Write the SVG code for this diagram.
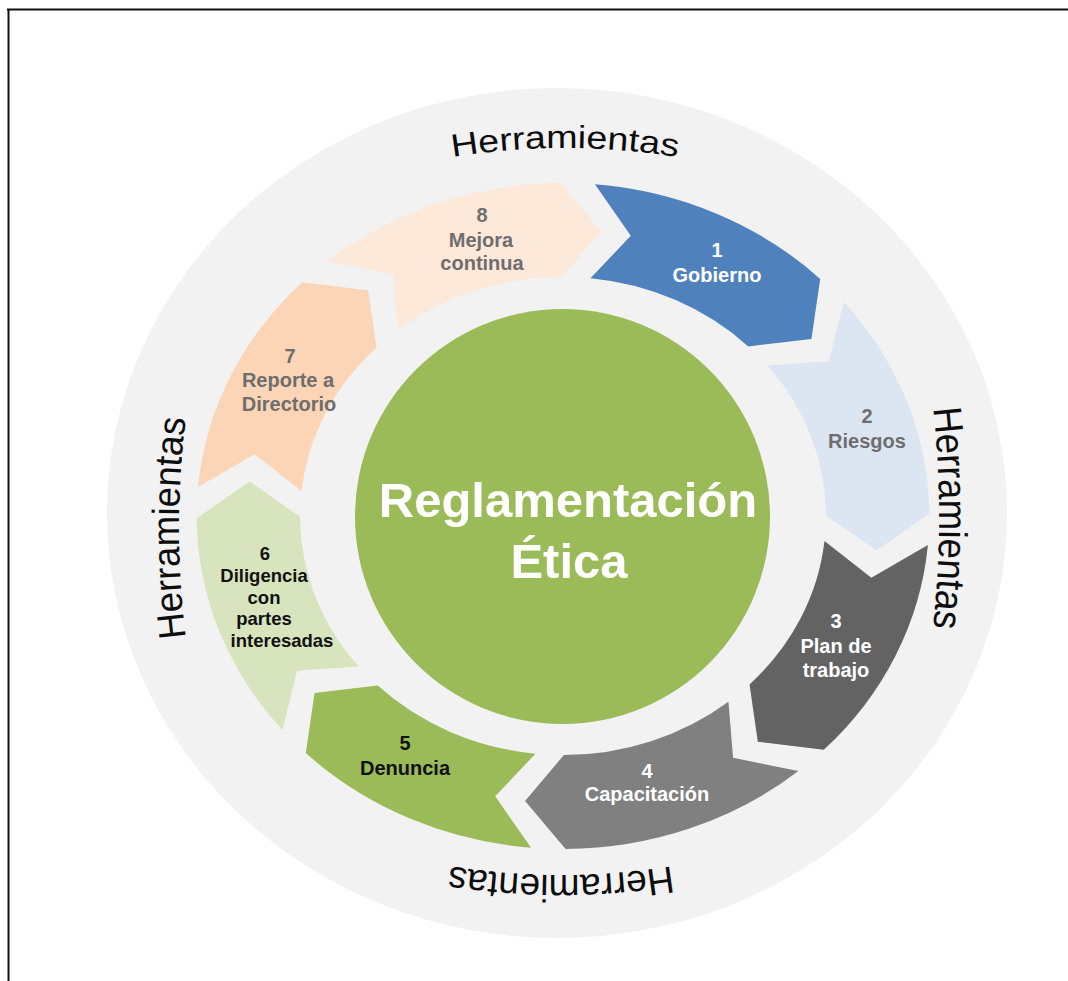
<svg xmlns="http://www.w3.org/2000/svg" xmlns:xlink="http://www.w3.org/1999/xlink" width="1068" height="981" viewBox="0 0 1068 981">
  <style>
    .lbl { font-family: "Liberation Sans", Arial, sans-serif; font-weight: bold; font-size: 20px; text-anchor: middle; }
    .lbl-sm { font-size: 18.5px; }
    .white { fill: #ffffff; }
    .grey { fill: #6e6e6e; }
    .dark { fill: #111111; }
    .tool { font-family: "Liberation Sans", Arial, sans-serif; fill: #0d0d0d; text-anchor: middle; }
    .core { font-family: "Liberation Sans", Arial, sans-serif; font-weight: bold; font-size: 49px; fill: #ffffff; text-anchor: middle; }
  </style>
  <defs>
    <!-- one chevron arc segment of the cycle, drawn in ring space around (0,0) -->
    <path id="seg" d="M29.02,-331.73 A333,333 0 0 1 233.82,-237.11 L225.85,-177.09 L168.41,-169.59 A239,239 0 0 0 24.98,-237.69 L61.63,-280.31 Z"/>
    <!-- baselines for the curved "Herramientas" labels -->
    <path id="arcTop" d="M215,241.8 A700,700 0 0 1 915,241.8"/>
    <path id="arcRight" d="M878.8,176 A1000,1000 0 0 1 878.8,860"/>
    <path id="arcBottom" d="M911,781.2 A700,700 0 0 1 211,781.2"/>
    <path id="arcLeft" d="M233.3,835.8 A900,900 0 0 1 233.3,220.2"/>
  </defs>

  <!-- frame -->
  <line x1="7" y1="9.5" x2="1068" y2="9.5" stroke="#111" stroke-width="2"/>
  <line x1="8.5" y1="9" x2="8.5" y2="981" stroke="#111" stroke-width="2"/>

  <!-- background disc -->
  <ellipse id="background" cx="557" cy="513" rx="450" ry="425" fill="#f2f2f2"/>

  <!-- "Herramientas" around the ring -->
  <g id="tools">
    <text class="tool" font-size="32"><textPath xlink:href="#arcTop" href="#arcTop" startOffset="50%" textLength="226" lengthAdjust="spacingAndGlyphs">Herramientas</textPath></text>
    <text class="tool" font-size="40"><textPath xlink:href="#arcRight" href="#arcRight" startOffset="50%" textLength="220" lengthAdjust="spacingAndGlyphs">Herramientas</textPath></text>
    <text class="tool" font-size="38"><textPath xlink:href="#arcBottom" href="#arcBottom" startOffset="50%" textLength="223" lengthAdjust="spacingAndGlyphs">Herramientas</textPath></text>
    <text class="tool" font-size="38"><textPath xlink:href="#arcLeft" href="#arcLeft" startOffset="50%" textLength="220" lengthAdjust="spacingAndGlyphs">Herramientas</textPath></text>
  </g>

  <!-- cycle steps -->
  <g id="step1">
    <use href="#seg" xlink:href="#seg" transform="translate(563,516) scale(1.1,1) rotate(0)" fill="#4f81bd"/>
    <text class="lbl white" x="717" y="257">1</text>
    <text class="lbl white" x="717" y="282">Gobierno</text>
  </g>
  <g id="step2">
    <use href="#seg" xlink:href="#seg" transform="translate(563,516) scale(1.1,1) rotate(45)" fill="#dce6f2"/>
    <text class="lbl grey" x="867" y="423">2</text>
    <text class="lbl grey" x="867" y="448">Riesgos</text>
  </g>
  <g id="step3">
    <use href="#seg" xlink:href="#seg" transform="translate(563,516) scale(1.1,1) rotate(90)" fill="#636363"/>
    <text class="lbl white" x="836" y="628">3</text>
    <text class="lbl white" x="836" y="652.5">Plan de</text>
    <text class="lbl white" x="836" y="677">trabajo</text>
  </g>
  <g id="step4">
    <use href="#seg" xlink:href="#seg" transform="translate(563,516) scale(1.1,1) rotate(135)" fill="#808080"/>
    <text class="lbl white" x="647" y="778">4</text>
    <text class="lbl white" x="647" y="801">Capacitación</text>
  </g>
  <g id="step5">
    <use href="#seg" xlink:href="#seg" transform="translate(563,516) scale(1.1,1) rotate(180)" fill="#9bbb59"/>
    <text class="lbl dark" x="405" y="750">5</text>
    <text class="lbl dark" x="405" y="775">Denuncia</text>
  </g>
  <g id="step6">
    <use href="#seg" xlink:href="#seg" transform="translate(563,516) scale(1.1,1) rotate(225)" fill="#d7e4bd"/>
    <text class="lbl lbl-sm dark" x="265" y="560">6</text>
    <text class="lbl lbl-sm dark" x="264" y="582">Diligencia</text>
    <text class="lbl lbl-sm dark" x="264" y="603.5">con</text>
    <text class="lbl lbl-sm dark" x="264" y="625">partes</text>
    <text class="lbl lbl-sm dark" x="282" y="647">interesadas</text>
  </g>
  <g id="step7">
    <use href="#seg" xlink:href="#seg" transform="translate(563,516) scale(1.1,1) rotate(270)" fill="#fbd5b5"/>
    <text class="lbl grey" x="290" y="363">7</text>
    <text class="lbl grey" x="288" y="387">Reporte a</text>
    <text class="lbl grey" x="289" y="411">Directorio</text>
  </g>
  <g id="step8">
    <use href="#seg" xlink:href="#seg" transform="translate(563,516) scale(1.1,1) rotate(315)" fill="#fde9d9"/>
    <text class="lbl grey" x="482" y="222">8</text>
    <text class="lbl grey" x="481" y="247">Mejora</text>
    <text class="lbl grey" x="482" y="270">continua</text>
  </g>

  <!-- central hub -->
  <g id="hub">
    <circle cx="562.5" cy="516.5" r="207.5" fill="#9bbb59"/>
    <text class="core" x="568" y="517">Reglamentación</text>
    <text class="core" x="569" y="578">Ética</text>
  </g>
</svg>
